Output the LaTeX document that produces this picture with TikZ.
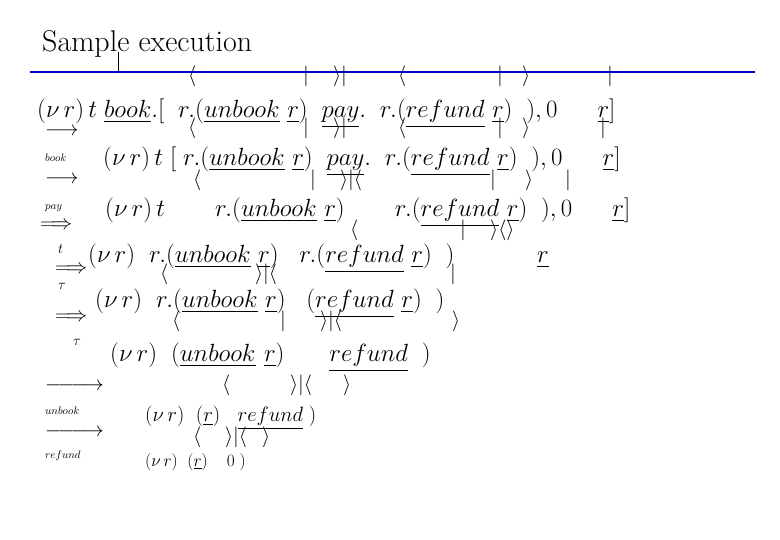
\documentclass[tikz,border=0pt]{standalone}
\usepackage{amsmath,amssymb}
\begin{document}
\begin{tikzpicture}[x=1pt,y=-1pt,
  t/.style={anchor=base west,inner sep=0pt},
  big/.style={t,font=\fontsize{25}{27}\selectfont},
  mid/.style={t,font=\fontsize{21}{23}\selectfont},
  lab/.style={t,font=\fontsize{15}{16}\selectfont},
  mk/.style={t,font=\fontsize{20}{22}\selectfont}]
\useasboundingbox (0,0) rectangle (780,540);
\node[t,font=\fontsize{30}{32}\selectfont] (title) at (42,52) {Sample execution};
\coordinate (la) at (30,72); \coordinate (lb) at (755,72);
\draw[blue!80!black,line width=2.5pt] (la) -- (lb);
\coordinate (va) at (118,52); \coordinate (vb) at (118,72);
\draw (va) -- (vb);
% line 1
\node[big] (l1) at (37,118) {$(\nu\, r)\,t\;\underline{book}.[\;\; r.(\underline{unbook}\ \underline{r})\;\;\underline{pay}.\;\; r.(\underline{refund}\ \underline{r})\;\;),0\quad\ \ \underline{r}]$};
\node[mk] (m1) at (188,82) {$\langle$};
\node[mk] (m2) at (303,82) {$|$};
\node[mk] (m3) at (333,82) {$\rangle|$};
\node[mk] (m4) at (398,82) {$\langle$};
\node[mk] (m5) at (497,82) {$|$};
\node[mk] (m6) at (522,82) {$\rangle$};
\node[mk] (m7) at (607,82) {$|$};
% arrow book
\node[mid] (a1) at (45,136) {$\longrightarrow$};
\node[lab] (b1) at (45,162) {$\scriptstyle book$};
\node[big] (l2) at (103,166) {$(\nu\, r)\,t\;[\;r.(\underline{unbook}\ \underline{r})\;\;\underline{pay}.\;\; r.(\underline{refund}\ \underline{r})\;\;),0\quad\ \ \underline{r}]$};
\node[mk] (n1) at (188,134) {$\langle$};
\node[mk] (n2) at (303,134) {$|$};
\node[mk] (n3) at (333,134) {$\rangle|$};
\node[mk] (n4) at (398,134) {$\langle$};
\node[mk] (n5) at (497,134) {$|$};
\node[mk] (n6) at (522,134) {$\rangle$};
\node[mk] (n7) at (600,134) {$|$};
% arrow pay
\node[mid] (a2) at (45,184) {$\longrightarrow$};
\node[lab] (b2) at (45,210) {$\scriptstyle pay$};
\node[mid] (a3) at (40,230) {$\Longrightarrow$};
\node[big] (l3) at (105,217) {$(\nu\, r)\,t\qquad r.(\underline{unbook}\ \underline{r})\qquad r.(\underline{refund}\ \underline{r})\;\;),0\quad\ \ \underline{r}]$};
\node[mk] (p1) at (193,186) {$\langle$};
\node[mk] (p2) at (310,186) {$|$};
\node[mk] (p3) at (340,186) {$\rangle|\langle$};
\node[mk] (p4) at (490,186) {$|$};
\node[mk] (p5) at (525,186) {$\rangle$};
\node[mk] (p6) at (565,186) {$|$};
% tau-steps
\node[lab] (b3) at (58,254) {$t$};
\node[mid] (a4) at (55,274) {$\Longrightarrow$};
\node[big] (l4) at (88,263) {$(\nu\, r)\;\;r.(\underline{unbook}\ \underline{r})\;\;\;r.(\underline{refund}\ \underline{r})\;\;)\qquad\quad\ \underline{r}$};
\node[mk] (q1) at (350,236) {$\langle$};
\node[mk] (q2) at (460,236) {$|$};
\node[mk] (q3) at (490,236) {$\rangle\langle\rangle$};
\node[mk] (q4) at (255,280) {$\rangle|\langle$};
\node[mk] (q5) at (160,280) {$\langle$};
\node[lab] (b4) at (58,290) {$\tau$};
\node[mid] (a5) at (55,322) {$\Longrightarrow$};
\node[big] (l5) at (95,308) {$(\nu\, r)\;\;r.(\underline{unbook}\ \underline{r})\;\;\;(\underline{refund}\ \underline{r})\;\;)$};
\node[mk] (q6) at (450,280) {$|$};
\node[mk] (q7) at (280,327) {$|$};
\node[mk] (q8) at (320,327) {$\rangle|\langle$};
\node[mk] (q9) at (172,327) {$\langle$};
\node[mk] (q10) at (452,327) {$\rangle$};
\node[lab] (b5) at (73,345) {$\tau$};
\node[t,font=\fontsize{28}{30}\selectfont] (l6) at (110,362) {$(\nu\, r)\;\;(\underline{unbook}\ \underline{r})\quad\ \ \underline{refund}\;\;)$};
% unbook
\node[mid] (a6) at (45,391) {$\relbar\joinrel\relbar\joinrel\longrightarrow$};
\node[mk] (r1) at (222,391) {$\langle$};
\node[mk] (r2) at (290,391) {$\rangle|\langle$};
\node[mk] (r3) at (343,391) {$\rangle$};
\node[lab] (b6) at (45,414) {$\scriptstyle unbook$};
\node[t,font=\fontsize{21}{23}\selectfont] (l7) at (145,421) {$(\nu\, r)\;\;(\underline{r})\;\;\;\underline{refund}\;)$};
% refund
\node[mid] (a7) at (45,436) {$\relbar\joinrel\relbar\joinrel\longrightarrow$};
\node[mk] (s1) at (193,442) {$\langle$};
\node[mk] (s2) at (225,442) {$\rangle|\langle$};
\node[mk] (s3) at (262,442) {$\rangle$};
\node[lab] (b7) at (45,458) {$\scriptstyle refund$};
\node[t,font=\fontsize{19}{21}\selectfont] (l8) at (145,466) {$(\nu\, r)\;\;(\underline{r})\quad 0\;)$};
\end{tikzpicture}
\end{document}
